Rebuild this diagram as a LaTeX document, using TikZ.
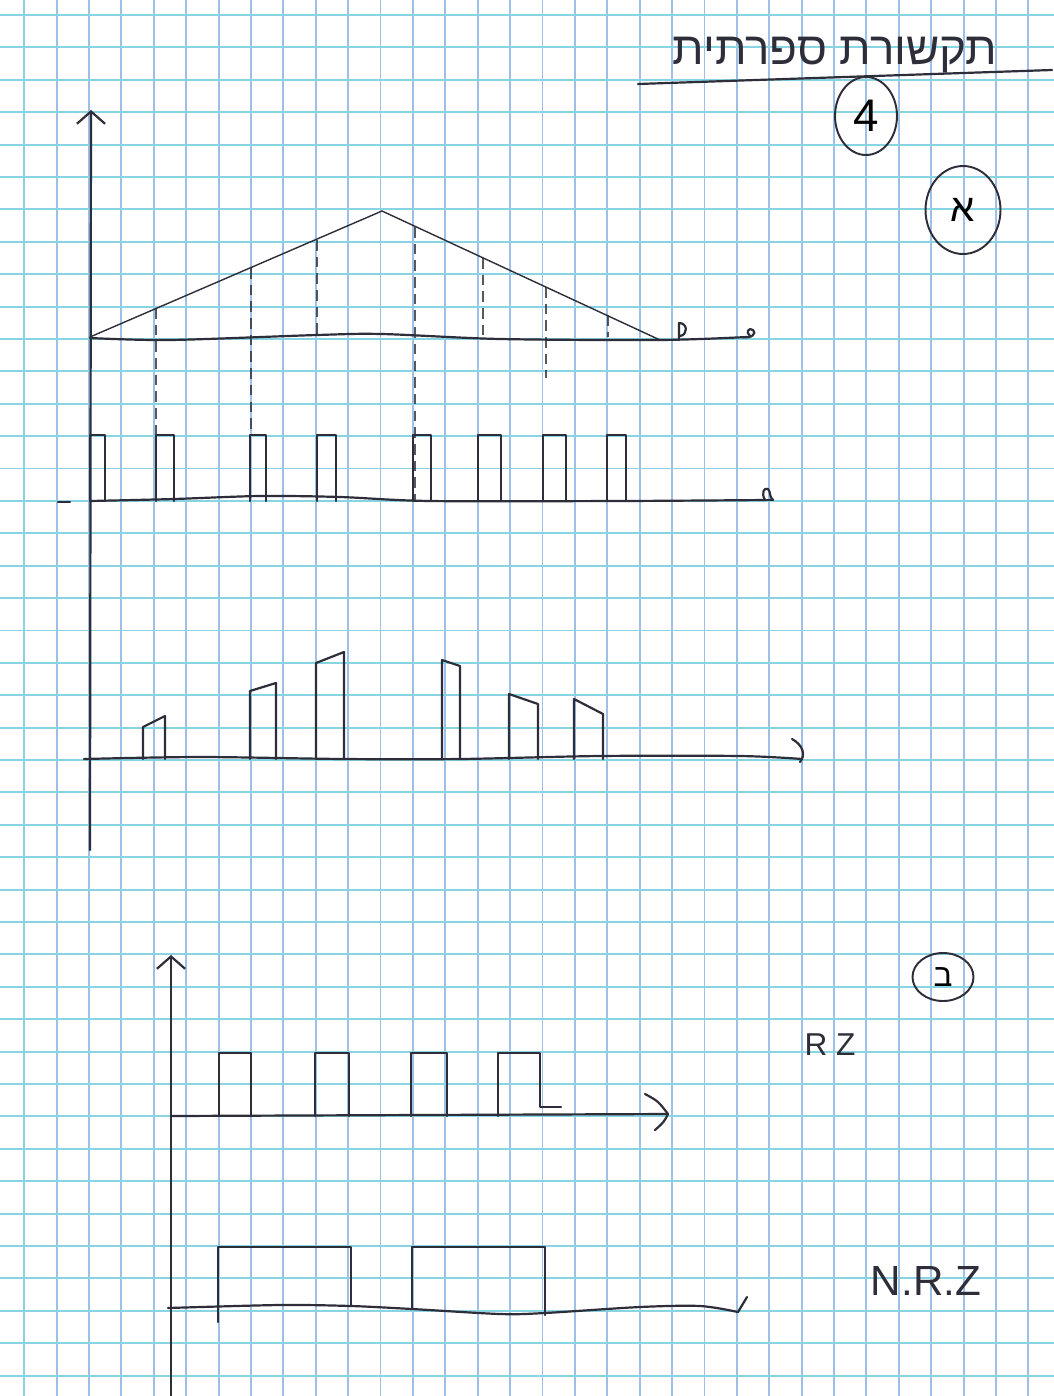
\documentclass[tikz,border=0pt]{standalone}
\usepackage{fontspec}
\setmainfont{Liberation Sans}
\newfontfamily\hebfont[Script=Hebrew]{Liberation Sans}
\TeXXeTstate=1
\usetikzlibrary{arrows.meta, shapes.geometric}

\begin{document}
\begin{tikzpicture}[
    % pixel coordinates of the scanned page: 1054 x 1396, y runs downwards
    x=0.02cm, y=-0.02cm,
]

% ---------------------------------------------------------------- colours
\definecolor{ink}{HTML}{2E2E3A}
\definecolor{gridv}{HTML}{9CC0E6}
\definecolor{gridh}{HTML}{88D4E2}
\definecolor{paper}{HTML}{FFFFFF}

\tikzset{
    pen/.style={ink, line width=1.25pt, line join=round, line cap=round},
    thinpen/.style={ink, line width=0.8pt, line cap=round},
    axis/.style={pen, -{Straight Barb[length=7pt, width=16pt]}},
    drop/.style={ink, line width=0.7pt, dash pattern=on 6pt off 3.5pt, opacity=0.8},
    circled/.style={ellipse, draw=ink, line width=1.1pt, inner sep=0pt},
    hand/.style={ink, inner sep=0pt},
}

% ---------------------------------------------------------------- paper
\fill[paper] (0,0) rectangle (1054,1396);
\useasboundingbox (0,0) rectangle (1054,1396);
\begin{scope}[shift={(24.2,15)}]
    \draw[gridv, line width=1.1pt, xstep=0.648cm, ystep=40cm]
        (-24.2,-15) grid (1029.8,1381);
    \draw[gridh, line width=1.1pt, xstep=40cm, ystep=0.648cm]
        (-24.2,-15) grid (1029.8,1381);
\end{scope}

% ---------------------------------------------------------------- header
\node[hand, font=\hebfont\fontsize{26}{30}\selectfont, anchor=base]
    (title) at (835,64) {\beginR תקשורת ספרתית\endR};
\draw[pen] (638,84) -- (1052,70);
\node[circled, minimum width=1.24cm, minimum height=1.56cm,
      font=\fontsize{26}{30}\selectfont] (qnum) at (866,116) {4};

% ---------------------------------------------------------------- part a
\node[circled, minimum width=1.5cm, minimum height=1.76cm,
      font=\hebfont\fontsize{22}{26}\selectfont] (parta) at (963,210) {א};

% axes
\draw[axis] (90,850) -- (91,110);
\draw[pen] plot[smooth] coordinates {(90,338) (170,340) (317,335) (382,334)
    (500,339) (660,340) (747,337)};
\draw[pen] (742,337) .. controls (752,339) and (757,333) .. (753,330)
    .. controls (749,327) and (745,332) .. (750,336);
\draw[pen] (679,340) -- (679,323) .. controls (688,323) and (688,335) .. (680,336);

% the signal
\draw[thinpen] (90,337) -- (382,211) -- (660,340);

% sample drops
\draw[drop] (156,308) -- (156,435);
\draw[drop] (251,268) -- (251,435);
\draw[drop] (317,240) -- (317,337);
\draw[drop] (415,227) -- (415,500);
\draw[drop] (483,258) -- (483,337);
\draw[drop] (546,287) -- (546,378);
\draw[drop] (608,315) -- (608,337);

% sampling train
\draw[pen] (58,502) -- (70,502);
\draw[pen] plot[smooth] coordinates {(90,501) (174,499) (260,496) (340,497)
    (430,501) (620,501) (766,500)};
\draw[pen] (760,500) -- (773,500);
\draw[pen] (765,500) .. controls (761,493) and (764,487) .. (768,489)
    .. controls (771,492) and (769,497) .. (773,500);
\foreach \a/\b in {90/105, 156/174, 250/266, 317/336, 413/431,
                   478/501, 543/566, 607/626}
    \draw[pen] (\a,501) -- (\a,435) -- (\b,435) -- (\b,501);

% sampled pulses
\draw[pen] plot[smooth] coordinates {(84,759) (200,757) (344,759) (460,759)
    (600,756) (740,756) (802,759)};
\draw[pen] (792,739) .. controls (803,745) and (806,755) .. (800,762);
\foreach \a/\b/\ya/\yb in {143/165/727/716, 250/276/691/683, 316/344/663/652,
                           442/460/660/666, 509/538/694/704, 574/603/699/714}
    \draw[pen] (\a,759) -- (\a,\ya) -- (\b,\yb) -- (\b,759);

% ---------------------------------------------------------------- part b
\node[circled, minimum width=1.22cm, minimum height=0.96cm,
      font=\hebfont\fontsize{18}{22}\selectfont] (partb) at (943,977) {ב};

\draw[axis] (171,1396) -- (171,955);

% RZ
\draw[pen] (171,1116) -- (668,1114);
\draw[pen] (645,1094) .. controls (658,1101) .. (668,1114)
    .. controls (664,1122) .. (655,1130);
\foreach \a/\b in {219/251, 315/349, 411/447}
    \draw[pen] (\a,1116) -- (\a,1053) -- (\b,1053) -- (\b,1116);
\draw[pen] (498,1116) -- (498,1053) -- (540,1053) -- (540,1107) -- (561,1107);
\node[hand, font=\fontsize{18}{22}\selectfont] (rz) at (830,1045) {R Z};

% NRZ
\draw[pen] plot[smooth] coordinates {(168,1308) (280,1305) (351,1306) (412,1309)
    (500,1314) (545,1313) (640,1307) (700,1306) (738,1312)};
\draw[pen] (738,1312) -- (747,1297);
\draw[pen] (218,1322) -- (218,1247) -- (351,1247) -- (351,1306);
\draw[pen] (412,1309) -- (412,1247) -- (545,1247) -- (545,1315);
\node[hand, font=\fontsize{24}{28}\selectfont] (nrz) at (926,1281) {N.R.Z};

\end{tikzpicture}
\end{document}
